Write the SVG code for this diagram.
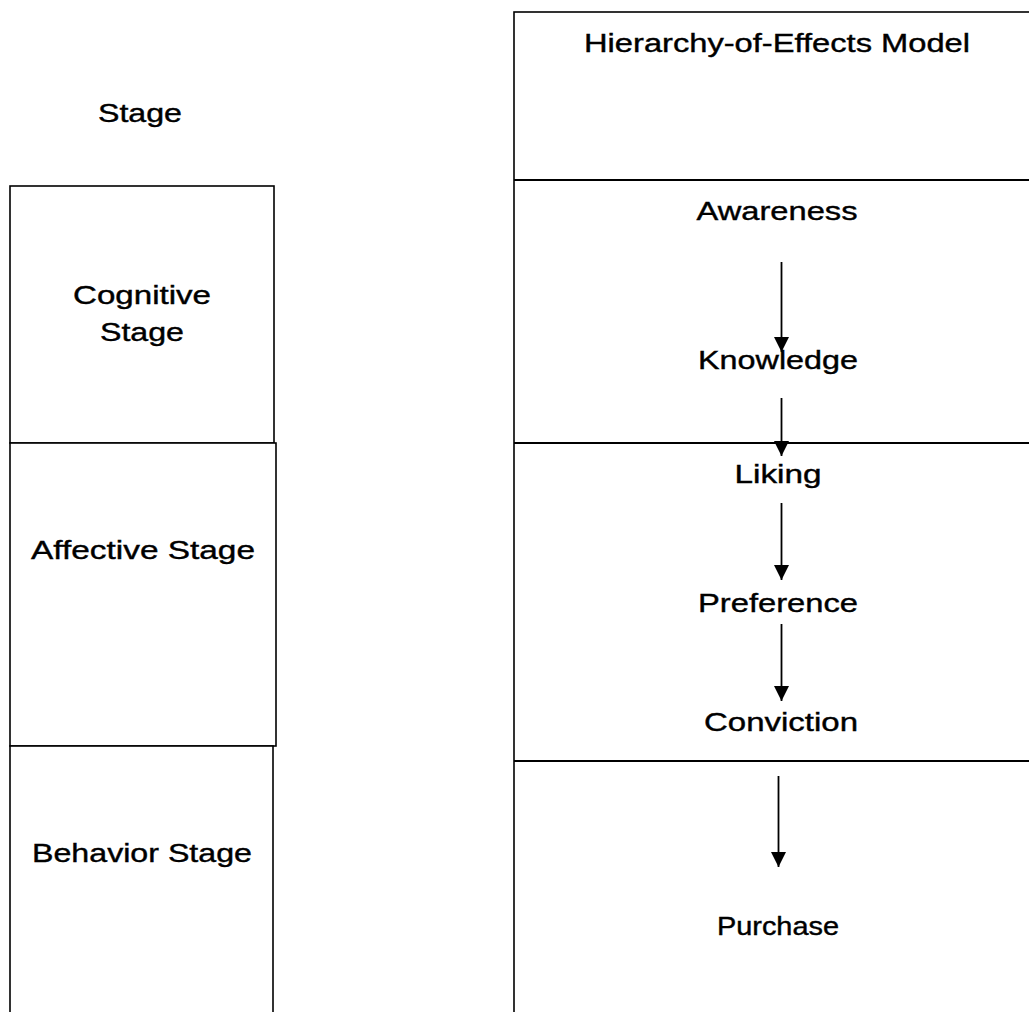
<svg xmlns="http://www.w3.org/2000/svg" width="1029" height="1012" viewBox="0 0 1029 1012">
<style>
.box{fill:#fff;stroke:#000;stroke-width:1.6}
.sep{stroke:#000;stroke-width:2.2}
.t{font-family:"Liberation Sans",Arial,sans-serif;font-size:26.5px;fill:#000;stroke:#000;stroke-width:0.4;text-anchor:middle}
.s{font-size:25px}
.c{stroke:#000;stroke-width:1.8;fill:none}
</style>
<defs>
<marker id="ah" markerWidth="15" markerHeight="15" refX="15" refY="7.5" orient="auto" markerUnits="userSpaceOnUse">
<path d="M0,0 L15,7.5 L0,15 Z" fill="#000"/>
</marker>
</defs>
<rect width="1029" height="1012" fill="#fff"/>
<g id="stage-header"><text class="t" x="140" y="122" textLength="84" lengthAdjust="spacingAndGlyphs">Stage</text></g>
<g id="cognitive"><rect class="box" x="10" y="186" width="264" height="257"/>
<text class="t" x="142" y="304" textLength="138" lengthAdjust="spacingAndGlyphs">Cognitive</text>
<text class="t" x="142" y="341" textLength="84" lengthAdjust="spacingAndGlyphs">Stage</text></g>
<g id="affective"><rect class="box" x="10" y="443" width="266" height="303"/>
<text class="t" x="143" y="559" textLength="224" lengthAdjust="spacingAndGlyphs">Affective Stage</text></g>
<g id="behavior"><rect class="box" x="10" y="746" width="263" height="290"/>
<text class="t" x="142" y="862" textLength="220" lengthAdjust="spacingAndGlyphs">Behavior Stage</text></g>
<g id="model"><rect class="box" x="514" y="12" width="540" height="1030"/>
<line class="sep" x1="514" y1="180" x2="1029" y2="180"/>
<line class="sep" x1="514" y1="443" x2="1029" y2="443"/>
<line class="sep" x1="514" y1="761" x2="1029" y2="761"/>
<text class="t" x="777" y="52" textLength="386" lengthAdjust="spacingAndGlyphs">Hierarchy-of-Effects Model</text></g>
<g id="awareness"><text class="t" x="777" y="220" textLength="161" lengthAdjust="spacingAndGlyphs">Awareness</text></g>
<g id="knowledge"><text class="t" x="778" y="369" textLength="160" lengthAdjust="spacingAndGlyphs">Knowledge</text></g>
<g id="liking"><text class="t" x="778" y="483" textLength="87" lengthAdjust="spacingAndGlyphs">Liking</text></g>
<g id="preference"><text class="t" x="778" y="612" textLength="160" lengthAdjust="spacingAndGlyphs">Preference</text></g>
<g id="conviction"><text class="t" x="781" y="731" textLength="154" lengthAdjust="spacingAndGlyphs">Conviction</text></g>
<g id="purchase"><text class="t s" x="778" y="935" textLength="122" lengthAdjust="spacingAndGlyphs">Purchase</text></g>
<g id="connectors">
<line class="c" x1="781.5" y1="262" x2="781.5" y2="352" marker-end="url(#ah)"/>
<line class="c" x1="781.5" y1="398" x2="781.5" y2="456" marker-end="url(#ah)"/>
<line class="c" x1="781.5" y1="503" x2="781.5" y2="580" marker-end="url(#ah)"/>
<line class="c" x1="781.5" y1="624" x2="781.5" y2="701" marker-end="url(#ah)"/>
<line class="c" x1="778.5" y1="776" x2="778.5" y2="867" marker-end="url(#ah)"/>
</g>
</svg>
